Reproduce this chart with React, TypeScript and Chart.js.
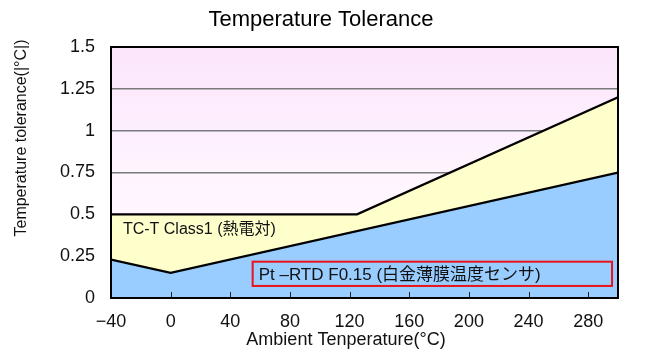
import React, { useEffect, useRef } from "react";
import { Chart, registerables } from "chart.js";

Chart.register(...registerables);

// ---- data ----
const ptTemps = [-40, 0, 300];
const ptTolerance = [0.23, 0.15, 0.75];
const tcTemps = [-40, 125, 300];
const tcTolerance = [0.5, 0.5, 1.2];
const xTickValues = [-40, 0, 40, 80, 120, 160, 200, 240, 280];
const yTickValues = [0, 0.25, 0.5, 0.75, 1, 1.25, 1.5];
const yTickLabels = ["0", "0.25", "0.5", "0.75", "1", "1.25", "1.5"];
const chartTitle = "Temperature Tolerance";
const xTitle = "Ambient Tenperature(°C)";
const yTitle = "Temperature tolerance(|°C|)";
const tcLabel = "TC-T Class1 (熱電対)";
const ptLabel = "Pt –RTD F0.15 (白金薄膜温度センサ)";

const FONT = "'Liberation Sans', Arial, 'Noto Sans CJK JP', sans-serif";

const decor = {
  id: "decor",
  beforeDraw(chart: any) {
    const { ctx, chartArea: a } = chart;
    const g = ctx.createLinearGradient(0, a.top, 0, a.bottom);
    g.addColorStop(0, "#FBE5FB");
    g.addColorStop(0.55, "#FFF6FF");
    g.addColorStop(1, "#FFF6FF");
    ctx.save();
    ctx.fillStyle = g;
    ctx.fillRect(a.left, a.top, a.right - a.left, a.bottom - a.top);
    ctx.restore();
  },
  afterDraw(chart: any) {
    const { ctx, chartArea: a, scales } = chart;
    const xs = scales.x;
    const ys = scales.y;
    ctx.save();
    // inward ticks on x axis
    ctx.strokeStyle = "#222";
    ctx.lineWidth = 1;
    for (const v of xTickValues) {
      if (v <= -40) continue;
      const px = Math.round(xs.getPixelForValue(v)) + 0.5;
      ctx.beginPath();
      ctx.moveTo(px, a.bottom);
      ctx.lineTo(px, a.bottom - 6);
      ctx.stroke();
    }
    // frame
    ctx.strokeStyle = "#000";
    ctx.lineWidth = 2;
    ctx.strokeRect(a.left, a.top, a.right - a.left, a.bottom - a.top);

    // in-plot labels
    ctx.fillStyle = "#111";
    ctx.textBaseline = "middle";
    ctx.textAlign = "left";
    ctx.font = `16px ${FONT}`;
    ctx.fillText(tcLabel, xs.getPixelForValue(-32), ys.getPixelForValue(0.41));

    const bx0 = xs.getPixelForValue(55);
    const bx1 = xs.getPixelForValue(296);
    const by0 = ys.getPixelForValue(0.217);
    const by1 = ys.getPixelForValue(0.072);
    ctx.strokeStyle = "#E8141B";
    ctx.lineWidth = 2;
    ctx.strokeRect(bx0, by0, bx1 - bx0, by1 - by0);
    ctx.font = `17px ${FONT}`;
    ctx.fillText(ptLabel, bx0 + 6, (by0 + by1) / 2 + 1);

    // titles
    ctx.fillStyle = "#000";
    ctx.textAlign = "center";
    ctx.font = `22px ${FONT}`;
    ctx.fillText(chartTitle, 321, 20);
    ctx.font = `18px ${FONT}`;
    ctx.fillStyle = "#111";
    ctx.fillText(xTitle, 346, 340);
    ctx.translate(22, 138);
    ctx.rotate(-Math.PI / 2);
    ctx.font = `16px ${FONT}`;
    ctx.fillText(yTitle, 0, 0);
    ctx.restore();
  },
};

export default function App() {
  const ref = useRef<HTMLCanvasElement>(null);
  useEffect(() => {
    document.body.style.margin = "0";
    const canvas = ref.current!;
    const chart = new Chart(canvas, {
      type: "line",
      data: {
        datasets: [
          {
            label: "Pt-RTD",
            data: ptTemps.map((t, i) => ({ x: t, y: ptTolerance[i] })),
            borderColor: "#000",
            borderWidth: 2.2,
            backgroundColor: "#99CCFF",
            fill: "origin",
            pointRadius: 0,
            tension: 0,
          },
          {
            label: "TC-T",
            data: tcTemps.map((t, i) => ({ x: t, y: tcTolerance[i] })),
            borderColor: "#000",
            borderWidth: 2.2,
            backgroundColor: "#FFFFCC",
            fill: "origin",
            pointRadius: 0,
            tension: 0,
          },
        ],
      },
      options: {
        animation: false,
        responsive: false,
        devicePixelRatio: 1,
        layout: { padding: { top: 47, right: 31, left: 0, bottom: 0 } },
        plugins: { legend: { display: false }, title: { display: false }, tooltip: { enabled: false } },
        scales: {
          x: {
            type: "linear",
            min: -40,
            max: 300,
            afterBuildTicks: (s: any) => {
              s.ticks = xTickValues.map((v) => ({ value: v }));
            },
            afterFit: (s: any) => {
              s.height = 57;
            },
            grid: { display: false, drawTicks: false },
            border: { display: false },
            ticks: {
              padding: 13,
              color: "#111",
              font: { family: FONT, size: 18 },
              maxRotation: 0,
              autoSkip: false,
              callback: (v: any) => String(v).replace("-", "−"),
            },
          },
          y: {
            type: "linear",
            min: 0,
            max: 1.5,
            afterBuildTicks: (s: any) => {
              s.ticks = yTickValues.map((v) => ({ value: v }));
            },
            afterFit: (s: any) => {
              s.width = 111;
            },
            grid: {
              drawTicks: false,
              color: (c: any) => (c.tick && (c.tick.value === 0 || c.tick.value === 1.5) ? "rgba(0,0,0,0)" : "#7a7a7a"),
              lineWidth: 1.5,
            },
            border: { display: false },
            ticks: {
              padding: 16,
              color: "#111",
              font: { family: FONT, size: 18 },
              autoSkip: false,
              callback: (v: any, i: number) => yTickLabels[i],
            },
          },
        },
      },
      plugins: [decor],
    });
    return () => chart.destroy();
  }, []);
  return <canvas ref={ref} width={649} height={355} style={{ display: "block" }} />;
}
